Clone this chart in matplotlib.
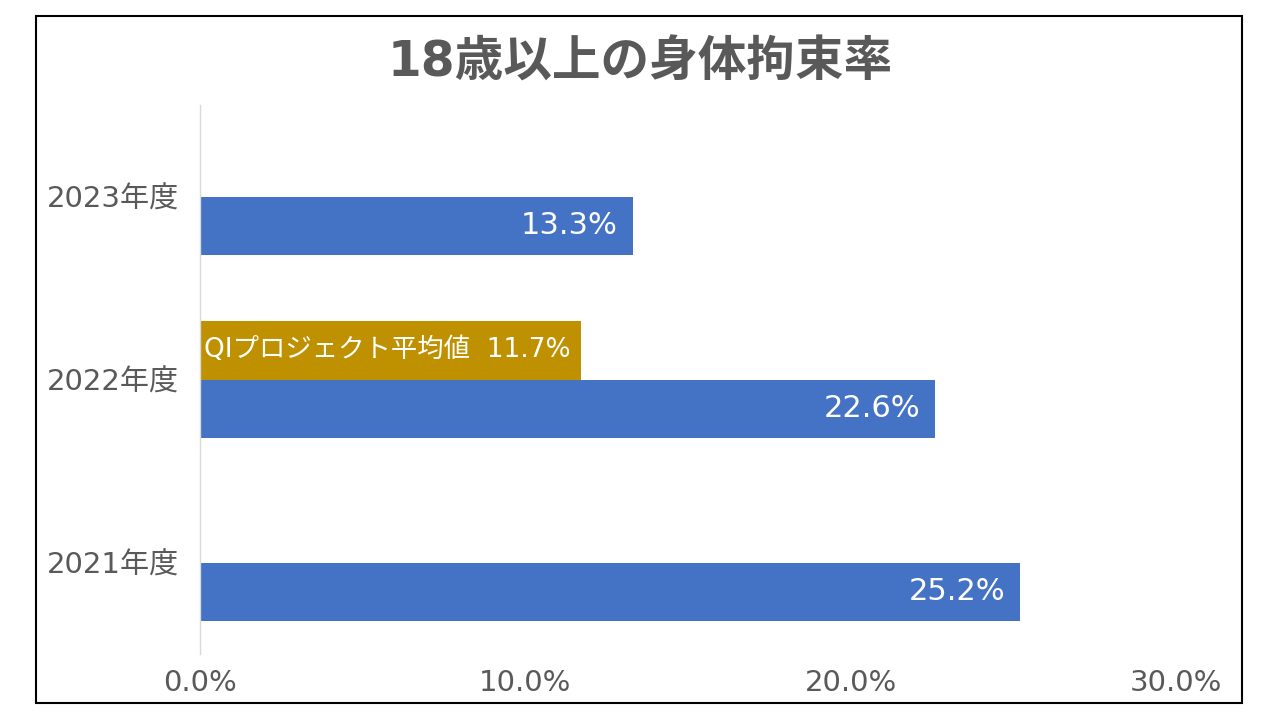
import matplotlib
matplotlib.use("Agg")
import matplotlib.pyplot as plt
import numpy as np
from matplotlib.patches import Rectangle

plt.rcParams["font.family"] = ["DejaVu Sans", "Noto Sans CJK JP"]

BLUE, GOLD = "#4472C4", "#BF9000"
INK, AXIS = "#595959", "#D9D9D9"

# data (bottom to top)
years = ["2021年度", "2022年度", "2023年度"]
rates = [25.2, 22.6, 13.3]
qi_avg = [None, 11.7, None]
qi_label = "QIプロジェクト平均値"
xticks = [0, 10, 20, 30]

fig = plt.figure(figsize=(12.8, 7.2), dpi=100)
ax = fig.add_axes([200 / 1280, 1 - 654 / 720, 976 / 1280, 549 / 720])

y = np.arange(len(years))
h = 0.318
ax.barh(y - h / 2, rates, height=h, color=BLUE, zorder=2)
for yi, v in zip(y, rates):
    ax.text(v - 0.45, yi - h / 2, f"{v:.1f}%", ha="right", va="center",
            color="white", fontsize=22, zorder=3)
for yi, v in zip(y, qi_avg):
    if v is None:
        continue
    ax.barh(yi + h / 2, v, height=h, color=GOLD, zorder=2)
    ax.text(v / 2 - 0.1, yi + h / 2, f"{qi_label}  {v:.1f}%", ha="center",
            va="center", color="white", fontsize=19, zorder=3)

ax.set_xlim(0, 30)
ax.set_ylim(-0.5, len(years) - 0.5)
ax.set_xticks(xticks)
ax.set_xticklabels([f"{t:.1f}%" for t in xticks])
ax.set_yticks(y)
ax.set_yticklabels(years)
ax.tick_params(axis="x", length=0, pad=11, labelsize=21, labelcolor=INK)
ax.tick_params(axis="y", length=0, pad=15, labelsize=21, labelcolor=INK)
for s in ["top", "right", "bottom"]:
    ax.spines[s].set_visible(False)
ax.spines["left"].set_color(AXIS)
ax.spines["left"].set_linewidth(1.0)

fig.text(0.5, 1 - 63 / 720, "18歳以上の身体拘束率", ha="center", va="center",
         fontsize=35, fontweight="bold", color=INK)

fig.patches.append(Rectangle((36 / 1280, 1 - 703 / 720), 1206 / 1280,
                             687 / 720, transform=fig.transFigure,
                             fill=False, edgecolor="black", lw=1.5))

fig.savefig("out.png", dpi=100)
